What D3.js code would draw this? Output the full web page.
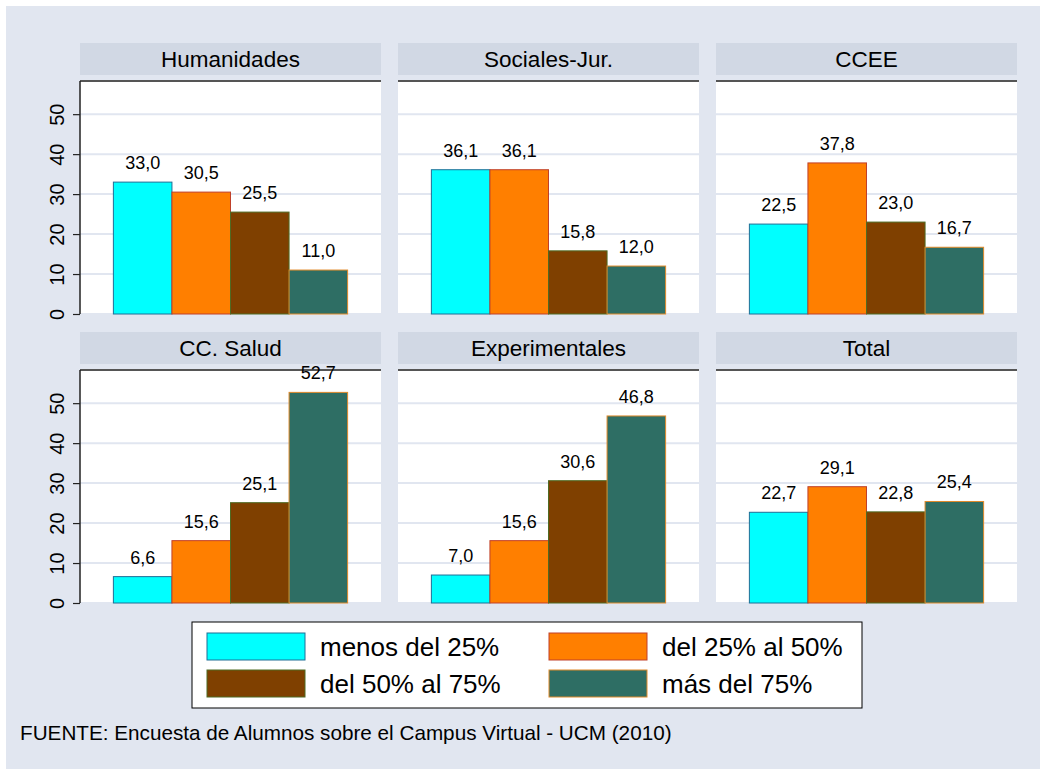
<!DOCTYPE html>
<html>
<head>
<meta charset="utf-8">
<script src="https://cdn.jsdelivr.net/npm/d3@7"></script>
<style>
	body { margin: 0; background: #ffffff; }
	text { font-family: "Liberation Sans", Arial, sans-serif; fill: #000; }
</style>
</head>
<body>
<script>
// facet bar chart, campus virtual survey

var panels = ["Humanidades", "Sociales-Jur.", "CCEE", "CC. Salud", "Experimentales", "Total"];
var seriesNames = ["menos del 25%", "del 25% al 50%", "del 50% al 75%", "más del 75%"];
var menos25 = [33.0, 36.1, 22.5, 6.6, 7.0, 22.7];
var del25al50 = [30.5, 36.1, 37.8, 15.6, 15.6, 29.1];
var del50al75 = [25.5, 15.8, 23.0, 25.1, 30.6, 22.8];
var mas75 = [11.0, 12.0, 16.7, 52.7, 46.8, 25.4];
var yTicks = [0, 10, 20, 30, 40, 50];
var footnote = "FUENTE: Encuesta de Alumnos sobre el Campus Virtual - UCM (2010)";

var fills = ["#00ffff", "#ff7f00", "#7f4000", "#2e6e64"];
var strokes = ["#1f6f96", "#c0402a", "#4f6a22", "#e08a2a"];

var w = 1040, h = 769;
var panelW = 301, plotH = 233;
var colX = [80, 398, 716];
var rowTop = [43, 332];   // strip top per row
var stripH = 32, stripGap = 6;

var values = [menos25, del25al50, del50al75, mas75];
var fmt = function(v) { return d3.format(".1f")(v).replace(".", ","); };

var svg = d3.select("body")
		.append("svg")
		.attr("width", w)
		.attr("height", h);

svg.append("rect")
	.attr("x", 6)
	.attr("y", 6)
	.attr("width", w - 6)
	.attr("height", h - 6)
	.attr("fill", "#e1e6f0");

var y = d3.scaleLinear().domain([0, 58.3]).range([plotH, 0]);
var x = d3.scaleBand().domain(d3.range(seriesNames.length)).range([0, panelW]).paddingInner(0).paddingOuter(0.57);

panels.forEach(function(name, p) {
	var col = p % 3, row = Math.floor(p / 3);
	var px = colX[col];
	var py = rowTop[row] + stripH + stripGap;

	// strip
	svg.append("rect")
		.attr("x", px)
		.attr("y", rowTop[row])
		.attr("width", panelW)
		.attr("height", stripH)
		.attr("fill", "#d1d8e4");
	svg.append("text")
		.attr("x", px + panelW / 2)
		.attr("y", rowTop[row] + stripH / 2)
		.attr("dy", "0.35em")
		.attr("text-anchor", "middle")
		.attr("font-size", "22.5px")
		.text(name);

	var g = svg.append("g").attr("transform", "translate(" + px + "," + py + ")");

	g.append("rect")
		.attr("width", panelW)
		.attr("height", plotH)
		.attr("fill", "#ffffff");

	// grid
	g.selectAll("line.grid")
		.data(yTicks)
		.enter().append("line")
		.attr("class", "grid")
		.attr("x1", 0)
		.attr("x2", panelW)
		.attr("y1", function(d) { return y(d); })
		.attr("y2", function(d) { return y(d); })
		.attr("stroke", "#e1e6f0")
		.attr("stroke-width", 2);

	// top border
	g.append("line")
		.attr("x1", 0)
		.attr("x2", panelW)
		.attr("y1", 0)
		.attr("y2", 0)
		.attr("stroke", "#555555")
		.attr("stroke-width", 2);

	// bars
	var rows = seriesNames.map(function(s, i) { return { i: i, v: values[i][p] }; });
	g.selectAll("rect.bar")
		.data(rows)
		.enter().append("rect")
		.attr("class", "bar")
		.attr("x", function(d) { return x(d.i); })
		.attr("y", function(d) { return y(d.v); })
		.attr("width", x.bandwidth())
		.attr("height", function(d) { return y(0) - y(d.v); })
		.attr("fill", function(d) { return fills[d.i]; })
		.attr("stroke", function(d) { return strokes[d.i]; })
		.attr("stroke-width", 1);

	g.selectAll("text.lab")
		.data(rows)
		.enter().append("text")
		.attr("class", "lab")
		.attr("x", function(d) { return x(d.i) + x.bandwidth() / 2; })
		.attr("y", function(d) { return y(d.v) - 13; })
		.attr("text-anchor", "middle")
		.attr("font-size", "18px")
		.text(function(d) { return fmt(d.v); });

	// y axis on first column
	if (col == 0) {
		var ax = g.append("g")
				.call(d3.axisLeft(y).tickValues(yTicks).tickSize(7).tickFormat(d3.format("d")));
		ax.select(".domain")
			.attr("stroke", "#222")
			.attr("stroke-width", 1.5)
			.attr("d", "M0," + plotH + "V0");
		ax.selectAll(".tick line").attr("stroke", "#222").attr("stroke-width", 1.2);
		ax.selectAll(".tick text")
			.attr("font-size", "20px")
			.attr("font-family", "Liberation Sans, Arial, sans-serif")
			.attr("fill", "#000")
			.attr("x", 0)
			.attr("y", 0)
			.attr("dy", "0.35em")
			.attr("text-anchor", "middle")
			.attr("transform", "translate(-23,0) rotate(-90)");
	}
});

// legend
var leg = svg.append("g").attr("transform", "translate(192,622)");
leg.append("rect")
	.attr("width", 670)
	.attr("height", 86)
	.attr("fill", "#ffffff")
	.attr("stroke", "#000")
	.attr("stroke-width", 1);

var legItems = leg.selectAll("g.item")
		.data(seriesNames)
		.enter().append("g")
		.attr("class", "item")
		.attr("transform", function(d, i) {
			return "translate(" + (15 + (i % 2) * 342) + "," + (11 + Math.floor(i / 2) * 37) + ")";
		});
legItems.append("rect")
	.attr("width", 98)
	.attr("height", 27)
	.attr("fill", function(d, i) { return fills[i]; })
	.attr("stroke", function(d, i) { return strokes[i]; })
	.attr("stroke-width", 1);
legItems.append("text")
	.attr("x", 113)
	.attr("y", 14)
	.attr("dy", "0.35em")
	.attr("font-size", "26px")
	.text(function(d) { return d; });

svg.append("text")
	.attr("x", 20)
	.attr("y", 740)
	.attr("font-size", "20.7px")
	.text(footnote);
</script>
</body>
</html>
